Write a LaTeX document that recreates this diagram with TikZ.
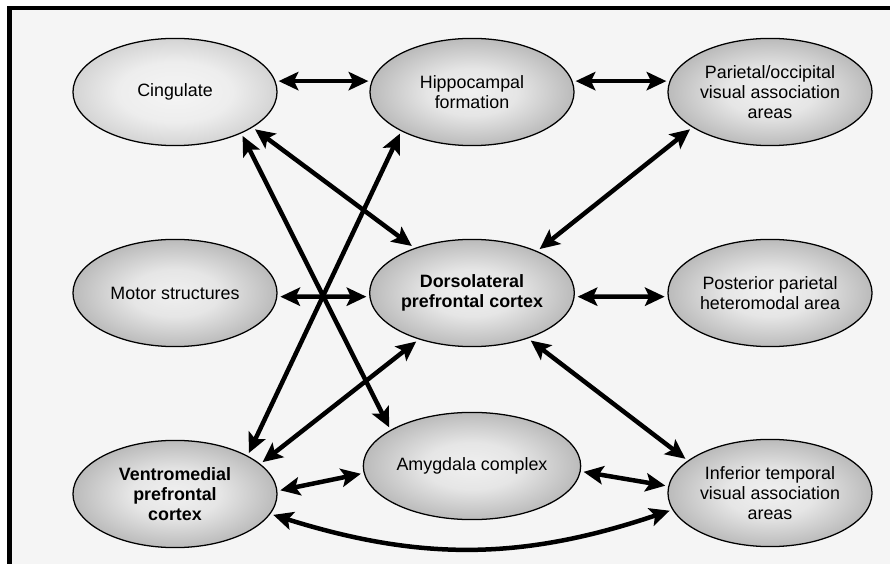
\documentclass[tikz,border=0pt]{standalone}
\usepackage{fontspec}
\setmainfont{Liberation Sans}
\usetikzlibrary{shapes.geometric,arrows.meta}
\definecolor{bgcol}{RGB}{245,245,245}
\pgfdeclareradialshading{regionshade}{\pgfpoint{0bp}{0bp}}{color(0bp)=(black!6); color(11bp)=(black!10); color(26bp)=(black!28); color(35bp)=(black!50); color(72bp)=(black!50)}
\pgfdeclareradialshading{lightshade}{\pgfpoint{0bp}{0bp}}{color(0bp)=(black!4); color(14bp)=(black!7); color(35bp)=(black!26); color(72bp)=(black!26)}
\begin{document}
\begin{tikzpicture}[x=0.025cm,y=-0.025cm,
  region/.style={ellipse,draw,line width=0.9pt,shading=regionshade,minimum width=5.1cm,minimum height=2.68cm,
    inner sep=1pt,outer sep=2.5pt,align=center,font=\fontsize{12.7}{14.2}\selectfont},
  lightregion/.style={region,shading=lightshade},
  link/.style={line width=3.2pt,{Stealth[length=14pt,width=13pt,inset=3pt]}-{Stealth[length=14pt,width=13pt,inset=3pt]}}]
\useasboundingbox (0,0) rectangle (890,564);
\fill[bgcol] (9.5,8) rectangle (890,564);
\draw[line width=3pt] (890,8) -- (9.5,8) -- (9.5,564);
% top row
\node[lightregion] (cing) at (175,92) {Cingulate};
\node[region] (hipp) at (472,92) {Hippocampal\\formation};
\node[region] (paroc) at (770,92) {Parietal/occipital\\visual association\\areas};
% middle row
\node[region] (motor) at (175,293) {Motor structures};
\node[region,font=\fontsize{12.7}{14.2}\selectfont\bfseries] (dlpfc) at (472,293) {Dorsolateral\\prefrontal cortex};
\node[region] (ppar) at (770,293) {Posterior parietal\\heteromodal area};
% bottom row
\node[region,font=\fontsize{12.7}{14.2}\selectfont\bfseries] (vmpfc) at (175,494) {Ventromedial\\prefrontal\\cortex};
\node[region] (amyg) at (472,466) {Amygdala complex};
\node[region] (itemp) at (770,493) {Inferior temporal\\visual association\\areas};
% connections
\draw[link] (cing.6) -- (hipp.174);
\draw[link] (hipp.6) -- (paroc.174);
\draw[link] (cing.-25) -- (dlpfc.142);
\draw[link] (cing.-33) -- (amyg.155);
\draw[link] (hipp.-150) -- (vmpfc.29);
\draw[link] (paroc.205) -- (dlpfc.33);
\draw[link] (motor.-2) -- (dlpfc.182);
\draw[link] (dlpfc.-2) -- (ppar.182);
\draw[link] (dlpfc.221) -- (vmpfc.20);
\draw[link] (dlpfc.-39) -- (itemp.158);
\draw[link] (vmpfc.2) -- (amyg.184);
\draw[link] (amyg.-3) -- (itemp.176);
\draw[link] (vmpfc.-12) to[bend right=18] (itemp.190);
\end{tikzpicture}
\end{document}
